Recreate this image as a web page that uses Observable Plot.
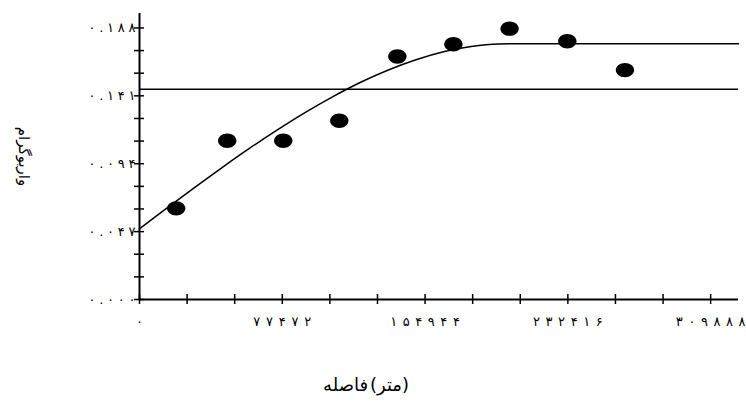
<!DOCTYPE html>
<html><head><meta charset="utf-8">
<script src="https://cdn.jsdelivr.net/npm/d3@7"></script>
<script src="https://cdn.jsdelivr.net/npm/@observablehq/plot@0.6"></script>
<style>
body{margin:0;background:#fff}
svg{display:block}
</style>
</head><body><div id="chart"></div>
<script>
// experimental variogram points
const lagDistance = [19900, 47600, 78000, 108400, 139900, 170300, 200800, 232100, 263400];
const semivariance = [0.0631, 0.1099, 0.1099, 0.1237, 0.1682, 0.1767, 0.1875, 0.1788, 0.1588];
// fitted model curve
const modelDistance = [0, 15000, 30000, 45000, 60000, 75000, 90000, 105000, 120000, 135000, 150000, 165000, 180000, 195000, 200000, 325000];
const modelValue = [0.049, 0.0634, 0.0776, 0.0915, 0.1049, 0.1176, 0.1296, 0.1405, 0.1504, 0.1589, 0.1660, 0.1715, 0.1751, 0.1769, 0.177, 0.177];
// sample variance line
const sillValue = 0.1456;
// ticks
const xTickValues = [0, 77472, 154944, 232416, 309888];
const xTickLabels = ["۰", "۷۷۴۷۲", "۱۵۴۹۴۴", "۲۳۲۴۱۶", "۳۰۹۸۸۸"];
const xMinorTicks = [0, 25824, 51648, 77472, 103296, 129120, 154944, 180768, 206592, 232416, 258240, 284064, 309888];
const yTickValues = [0, 0.047, 0.094, 0.141, 0.188];
const yTickLabels = ["۰.۰۰۰", "۰.۰۴۷", "۰.۰۹۴", "۰.۱۴۱", "۰.۱۸۸"];
const yMinorTicks = [0, 0.01567, 0.03133, 0.047, 0.06267, 0.07833, 0.094, 0.10967, 0.12533, 0.141, 0.15667, 0.17233, 0.188];
const xTitleWord = "فاصله";
const xTitleUnit = "(متر)";
const yTitle = "واریوگرام";

const points = lagDistance.map((d, i) => ({d, v: semivariance[i]}));
const model = modelDistance.map((d, i) => ({d, v: modelValue[i]}));

const ellipse = {
  draw(ctx, size) {
    const r = Math.sqrt(size / Math.PI), rx = r * 1.15, ry = r * 0.9, k = 0.5523;
    ctx.moveTo(rx, 0);
    ctx.bezierCurveTo(rx, ry * k, rx * k, ry, 0, ry);
    ctx.bezierCurveTo(-rx * k, ry, -rx, ry * k, -rx, 0);
    ctx.bezierCurveTo(-rx, -ry * k, -rx * k, -ry, 0, -ry);
    ctx.bezierCurveTo(rx * k, -ry, rx, -ry * k, rx, 0);
    ctx.closePath();
  }
};

const chart = Plot.plot({
  width: 746, height: 416,
  marginLeft: 139, marginRight: 8, marginTop: 13, marginBottom: 117,
  x: {domain: [0, 325000], label: null},
  y: {domain: [0, 0.198], label: null},
  style: {fontFamily: "DejaVu Sans", background: "white", color: "black"},
  marks: [
    Plot.ruleY([sillValue], {stroke: "black", strokeWidth: 1.5}),
    Plot.line(model, {x: "d", y: "v", stroke: "black", strokeWidth: 1.5, curve: "monotone-x"}),
    Plot.dot(points, {x: "d", y: "v", r: 8, fill: "black", stroke: "none", symbol: ellipse}),
    Plot.ruleX([0], {stroke: "black", strokeWidth: 2}),
    Plot.ruleY([0], {stroke: "black", strokeWidth: 2}),
    Plot.axisX({ticks: xMinorTicks, tickSize: 10, dy: -5, tickFormat: () => "", strokeWidth: 1.5, label: null}),
    Plot.axisY({ticks: yMinorTicks, tickSize: 10, dx: 5, tickFormat: () => "", strokeWidth: 1.5, label: null}),
    Plot.axisX({ticks: xTickValues, tickSize: 0, tickPadding: 17, fontSize: 13, label: null,
      tickFormat: d => xTickLabels[xTickValues.indexOf(d)]}),
    Plot.axisY({ticks: yTickValues, tickSize: 0, tickPadding: 4, fontSize: 13, label: null,
      tickFormat: d => yTickLabels[yTickValues.indexOf(d)]}),
    Plot.text([xTitleWord], {frameAnchor: "bottom", dx: -93.5, dy: 86, fontSize: 18, lineAnchor: "middle", textAnchor: "middle", fill: "black"}),
    Plot.text([xTitleUnit], {frameAnchor: "bottom", dx: -49.5, dy: 86, fontSize: 18, lineAnchor: "middle", textAnchor: "middle", fill: "black"}),
    Plot.text([yTitle], {frameAnchor: "left", dx: -116, rotate: 90, fontSize: 15, lineAnchor: "middle", textAnchor: "middle", fill: "black"})
  ]
});
// spread the digits of the tick labels as in the original (letter-spacing is ignored for Arabic-script digits)
d3.select(chart).selectAll("text")
  .filter(function() { return /^[\u06F0-\u06F9.]{2,}$/.test(this.textContent); })
  .each(function() {
    const n = this.textContent.length;
    const per = this.textContent.includes(".") ? 9.4 : 11.6;
    this.setAttribute("textLength", n * per);
    this.setAttribute("lengthAdjust", "spacing");
  });
document.getElementById("chart").appendChild(chart);
</script>
</body></html>
